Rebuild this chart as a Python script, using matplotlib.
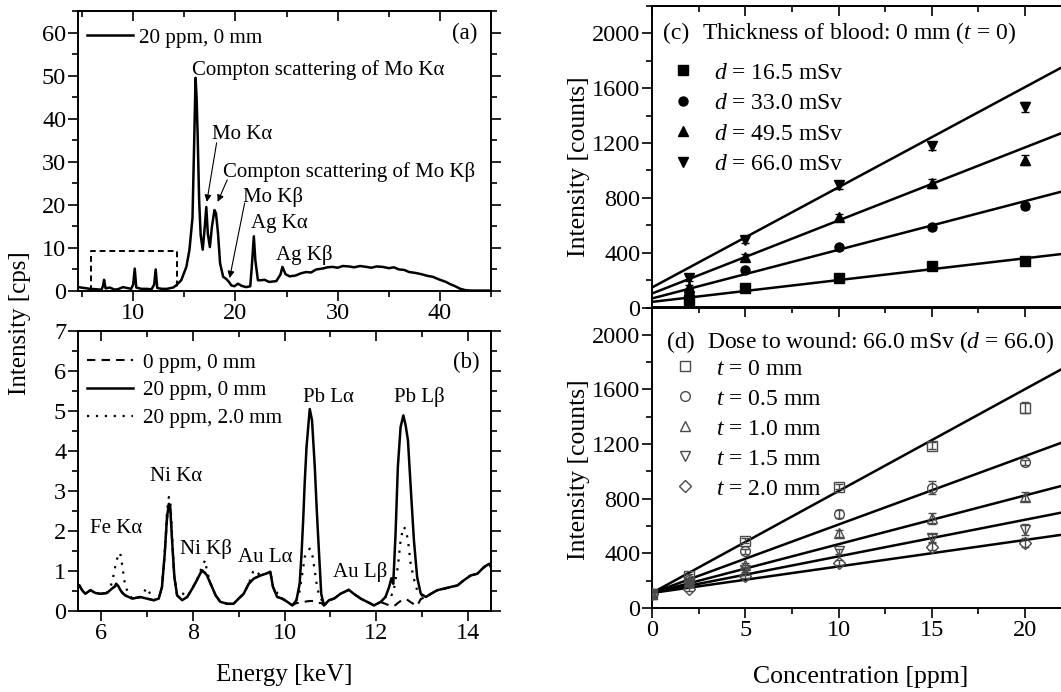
import matplotlib
matplotlib.use('Agg')
import matplotlib.pyplot as plt
import numpy as np
from matplotlib.ticker import MultipleLocator
from matplotlib.lines import Line2D

plt.rcParams['font.family'] = ['Liberation Serif', 'DejaVu Serif']
plt.rcParams['mathtext.fontset'] = 'custom'
plt.rcParams['mathtext.rm'] = 'Liberation Serif'
plt.rcParams['mathtext.it'] = 'Liberation Serif:italic'
plt.rcParams['axes.linewidth'] = 1.4

# ---------------- data: panel (a) ----------------
energy_a = [4.6, 5.2, 5.8, 6.4, 6.9, 7.05, 7.15, 7.3, 7.7, 8.2, 8.6, 9.0, 9.4, 9.8, 10.0,
            10.15, 10.3, 10.8, 11.3, 11.8, 12.05, 12.2, 12.35, 12.8, 13.3, 13.9, 14.2,
            14.7, 15.2, 15.5, 15.8, 15.95, 16.1, 16.2, 16.3, 16.45, 16.6, 16.8, 17.0,
            17.15, 17.3, 17.5, 17.7, 17.95, 18.1, 18.3, 18.5, 18.8, 19.1, 19.37, 19.6,
            19.9, 20.25, 20.6, 21.05, 21.45, 21.6, 21.8, 21.95, 22.2, 22.5, 22.85, 23.3,
            24.0, 24.4, 24.6, 24.9, 25.3, 25.9, 26.4, 26.9, 27.4, 27.9, 28.5, 29.0, 29.5,
            30.0, 30.5, 31.1, 31.6, 32.2, 32.8, 33.3, 33.8, 34.4, 35.0, 35.5, 36.0, 36.5,
            37.0, 37.6, 38.2, 38.8, 39.3, 39.9, 40.6, 41.0, 41.5, 42.0, 42.5, 43.0, 44.0, 45.0]
counts_a = [0.9, 0.7, 0.5, 0.4, 0.3, 1.2, 2.6, 0.6, 0.8, 0.3, 0.5, 0.9, 0.7, 0.5, 1.5,
            5.2, 0.8, 0.5, 0.5, 0.4, 1.5, 5.0, 0.7, 0.5, 0.5, 0.8, 1.3,
            2.5, 5.6, 9.5, 17.0, 33.0, 49.5, 45.0, 36.6, 21.0, 13.0, 9.6, 14.9,
            19.5, 13.3, 10.2, 14.9, 18.8, 18.0, 13.3, 6.4, 3.3, 2.8, 2.1, 1.3,
            1.1, 1.7, 1.2, 0.9, 1.1, 5.6, 12.7, 7.1, 2.5, 2.5, 2.6, 2.1,
            2.3, 3.8, 5.6, 3.9, 3.4, 3.6, 4.1, 4.4, 4.3, 5.0, 5.2, 5.5, 5.6,
            5.4, 5.8, 5.7, 5.5, 5.8, 5.6, 5.4, 5.7, 5.6, 5.3, 5.5, 5.0, 4.9,
            4.4, 4.2, 3.9, 3.5, 3.3, 2.7, 2.1, 1.6, 1.1, 0.5, 0.2, 0.1, 0.1, 0.1]
box_a = [5.9, 14.3, 0.0, 9.35]   # zoom region marker: x0, x1, y0, y1

# ---------------- data: panel (b) ----------------
energy_b = [5.5, 5.53, 5.59, 5.66, 5.77, 5.88, 5.99, 6.13, 6.24, 6.31, 6.33, 6.38, 6.42, 6.47,
            6.53, 6.68, 6.86, 7.0, 7.15, 7.26, 7.33, 7.39, 7.44, 7.48, 7.51, 7.55, 7.6, 7.66,
            7.77, 7.88, 7.99, 8.09, 8.2, 8.27, 8.31, 8.39, 8.5, 8.6, 8.75, 8.89, 9.0, 9.11,
            9.22, 9.33, 9.48, 9.59, 9.69, 9.75, 9.84, 9.95, 10.06, 10.17, 10.26, 10.33, 10.37,
            10.41, 10.44, 10.48, 10.55, 10.6, 10.66, 10.7, 10.73, 10.8, 10.86, 10.97, 11.08,
            11.22, 11.4, 11.51, 11.66, 11.8, 11.95, 12.1, 12.2, 12.28, 12.33, 12.37, 12.42,
            12.47, 12.53, 12.59, 12.64, 12.69, 12.75, 12.82, 12.89, 12.97, 13.08, 13.19, 13.33,
            13.48, 13.62, 13.77, 13.91, 14.06, 14.2, 14.35, 14.46, 14.5]
ppm20_0mm = [0.6, 0.64, 0.52, 0.43, 0.52, 0.45, 0.43, 0.45, 0.56, 0.62, 0.68, 0.62, 0.53, 0.45,
             0.39, 0.31, 0.35, 0.31, 0.27, 0.31, 0.6, 1.43, 2.35, 2.68, 2.6, 1.77, 0.85, 0.39,
             0.27, 0.35, 0.56, 0.77, 1.02, 0.95, 0.89, 0.68, 0.39, 0.23, 0.18, 0.18, 0.31, 0.43,
             0.68, 0.81, 0.89, 0.93, 0.98, 0.6, 0.35, 0.31, 0.23, 0.14, 0.27, 0.68, 1.4,
             2.35, 3.2, 4.1, 5.05, 4.77, 3.6, 2.6, 1.93, 0.43, 0.14, 0.27, 0.31,
             0.43, 0.53, 0.43, 0.31, 0.23, 0.14, 0.23, 0.35, 0.6, 0.82, 0.68, 1.93,
             3.6, 4.6, 4.89, 4.64, 4.27, 3.1, 1.77, 0.85, 0.43, 0.35, 0.43, 0.52,
             0.56, 0.6, 0.64, 0.77, 0.89, 0.93, 1.1, 1.18, 1.1]
ppm0_0mm = [0.6, 0.64, 0.52, 0.43, 0.52, 0.45, 0.43, 0.45, 0.56, 0.62, 0.68, 0.62, 0.53, 0.45,
            0.39, 0.31, 0.35, 0.31, 0.27, 0.31, 0.6, 1.43, 2.3, 2.6, 2.55, 1.77, 0.85, 0.39,
            0.27, 0.35, 0.56, 0.77, 1.0, 0.95, 0.89, 0.68, 0.39, 0.23, 0.18, 0.18, 0.31, 0.43,
            0.68, 0.81, 0.89, 0.93, 0.98, 0.6, 0.35, 0.31, 0.23, 0.14, 0.2, 0.2, 0.2,
            0.22, 0.23, 0.24, 0.25, 0.25, 0.24, 0.22, 0.2, 0.2, 0.14, 0.27, 0.31,
            0.43, 0.53, 0.43, 0.31, 0.23, 0.14, 0.22, 0.18, 0.14, 0.12, 0.12, 0.15,
            0.2, 0.25, 0.29, 0.3, 0.27, 0.22, 0.17, 0.13, 0.3, 0.35, 0.43, 0.52,
            0.56, 0.6, 0.64, 0.77, 0.89, 0.93, 1.1, 1.18, 1.1]
ppm20_2mm = [0.6, 0.64, 0.52, 0.43, 0.52, 0.45, 0.43, 0.45, 0.7, 1.1, 1.2, 1.43, 1.45, 1.1,
             0.6, 0.31, 0.35, 0.58, 0.27, 0.31, 0.6, 1.43, 2.5, 2.85, 2.8, 1.9, 0.85, 0.39,
             0.45, 0.35, 0.56, 0.77, 1.1, 1.27, 1.0, 0.68, 0.39, 0.23, 0.18, 0.18, 0.31, 0.43,
             0.68, 1.03, 0.89, 0.93, 0.98, 0.6, 0.45, 0.31, 0.23, 0.14, 0.27, 0.5, 0.8,
             1.1, 1.35, 1.45, 1.56, 1.45, 1.0, 0.68, 0.5, 0.3, 0.14, 0.27, 0.31,
             0.43, 0.53, 0.43, 0.31, 0.23, 0.14, 0.23, 0.35, 0.45, 0.4, 0.43, 0.8,
             1.1, 1.77, 2.1, 2.05, 1.77, 1.18, 0.8, 0.52, 0.4, 0.35, 0.43, 0.52,
             0.56, 0.6, 0.64, 0.77, 0.89, 0.93, 1.1, 1.18, 1.1]

# ---------------- data: panel (c) ----------------
conc = [2, 5, 10, 15, 20]
dose_labels = ['16.5', '33.0', '49.5', '66.0']
c_d165 = [54, 139, 215, 300, 341]
c_d330 = [105, 272, 438, 589, 740]
c_d495 = [150, 370, 657, 905, 1075]
c_d660 = [215, 491, 893, 1180, 1465]
c_err = [[10, 12, 15, 15, 18], [12, 15, 18, 20, 22], [15, 18, 25, 30, 35], [18, 20, 25, 30, 35]]
c_intercept = [41, 66, 102, 146]
c_slope = [15.9, 35.5, 53.3, 73.1]

# ---------------- data: panel (d) ----------------
conc_d = [0, 2, 5, 10, 15, 20]
thick_labels = ['0', '0.5', '1.0', '1.5', '2.0']
d_t00 = [100, 231, 494, 888, 1187, 1467]
d_t05 = [100, 207, 414, 689, 881, 1066]
d_t10 = [100, 195, 316, 547, 657, 815]
d_t15 = [100, 182, 280, 414, 511, 572]
d_t20 = [100, 139, 231, 333, 450, 479]
d_err = [[15, 15, 18, 20, 25, 40], [15, 15, 15, 30, 50, 20], [15, 12, 15, 25, 40, 35],
         [15, 12, 15, 20, 30, 40], [15, 12, 12, 15, 25, 30]]
d_intercept = [110, 110, 110, 110, 110]
d_slope = [74.6, 50.1, 35.7, 26.8, 19.4]

# ---------------- figure ----------------
W, H = 1061, 692
fig = plt.figure(figsize=(W / 100, H / 100), dpi=100)


def rect(l, r, t, b):
    return [l / W, 1 - b / H, (r - l) / W, (b - t) / H]


def fpos(x, y):
    return (x / W, 1 - y / H)


ax_a = fig.add_axes(rect(78, 491, 11, 291))
ax_b = fig.add_axes(rect(78, 491, 331, 611))
ax_c = fig.add_axes(rect(652, 652 + 22.5 * 18.65, 6, 307.5))
ax_d = fig.add_axes(rect(652, 652 + 22.5 * 18.65, 307.5, 608))

TICK_FS = 17.5


def style(ax, xmaj, xmin, ymaj, ymin, right=True, xlabels=True):
    ax.xaxis.set_major_locator(MultipleLocator(xmaj))
    ax.xaxis.set_minor_locator(MultipleLocator(xmin))
    ax.yaxis.set_major_locator(MultipleLocator(ymaj))
    ax.yaxis.set_minor_locator(MultipleLocator(ymin))
    ax.tick_params(which='both', direction='out', width=1.2, labelsize=TICK_FS, pad=1.5,
                   right=right, top=False, labelbottom=xlabels)
    ax.tick_params(which='major', length=7)
    ax.tick_params(which='minor', length=4)
    sec = ax.secondary_xaxis('top')
    sec.xaxis.set_major_locator(MultipleLocator(xmaj))
    sec.xaxis.set_minor_locator(MultipleLocator(xmin))
    sec.tick_params(which='both', direction='in', width=1.2, labeltop=False)
    sec.tick_params(which='major', length=7)
    sec.tick_params(which='minor', length=4)
    sec.spines['top'].set_linewidth(1.4)


# ---- (a) ----
ax_a.plot(energy_a, counts_a, color='black', lw=1.8, label='20 ppm, 0 mm')
ax_a.plot([box_a[0], box_a[0], box_a[1], box_a[1]], [box_a[2], box_a[3], box_a[3], box_a[2]],
          color='black', lw=1.4, ls=(0, (3, 2)))
ax_a.set_xlim(4.6, 45)
ax_a.set_ylim(0, 65)
style(ax_a, 10, 5, 10, 5)
ax_a.legend(loc='upper left', bbox_to_anchor=fpos(87, 28), bbox_transform=fig.transFigure,
            frameon=False, fontsize=15.2, handlelength=2.2, handletextpad=0.25,
            borderpad=0, borderaxespad=0)
fig.text(*fpos(477, 33), '(a)', fontsize=16.5, ha='right', va='center')

ANN = 15
ax_a.text(15.8, 51.2, 'Compton scattering of Mo K\u03b1', fontsize=ANN, ha='left', va='center')
ax_a.text(17.67, 36.3, 'Mo K\u03b1', fontsize=ANN, ha='left', va='center')
ax_a.text(18.75, 27.7, 'Compton scattering of Mo K\u03b2', fontsize=ANN, ha='left', va='center')
ax_a.text(20.7, 21.9, 'Mo K\u03b2', fontsize=ANN, ha='left', va='center')
ax_a.text(21.5, 15.6, 'Ag K\u03b1', fontsize=ANN, ha='left', va='center')
ax_a.text(24.0, 8.4, 'Ag K\u03b2', fontsize=ANN, ha='left', va='center')
arr = dict(arrowstyle='-|>', color='black', lw=0.8, mutation_scale=10, shrinkA=0, shrinkB=0)
ax_a.annotate('', xy=(17.2, 20.7), xytext=(18.16, 34.4), arrowprops=arr)
ax_a.annotate('', xy=(18.26, 20.7), xytext=(19.2, 25.8), arrowprops=arr)
ax_a.annotate('', xy=(19.43, 3.0), xytext=(20.9, 20.4), arrowprops=arr)

# ---- (b) ----
ax_b.plot(energy_b, ppm0_0mm, color='black', lw=1.5, ls=(0, (4, 3)), label='0 ppm, 0 mm')
ax_b.plot(energy_b, ppm20_0mm, color='black', lw=1.8, label='20 ppm, 0 mm')
ax_b.plot(energy_b, ppm20_2mm, color='black', lw=1.6, ls=(0, (1, 3)), label='20 ppm, 2.0 mm')
ax_b.set_xlim(5.5, 14.5)
ax_b.set_ylim(0, 7)
style(ax_b, 2, 1, 1, 0.5)
ax_b.legend(loc='upper left', bbox_to_anchor=fpos(87, 353), bbox_transform=fig.transFigure,
            frameon=False, fontsize=15.2, handlelength=2.2, handletextpad=0.45,
            labelspacing=0.37, borderpad=0, borderaxespad=0)
fig.text(*fpos(480, 362), '(b)', fontsize=16.5, ha='right', va='center')
ax_b.text(6.33, 2.06, 'Fe K\u03b1', fontsize=ANN, ha='center', va='center')
ax_b.text(7.64, 3.37, 'Ni K\u03b1', fontsize=ANN, ha='center', va='center')
ax_b.text(8.28, 1.56, 'Ni K\u03b2', fontsize=ANN, ha='center', va='center')
ax_b.text(9.59, 1.35, 'Au L\u03b1', fontsize=ANN, ha='center', va='center')
ax_b.text(10.95, 5.35, 'Pb L\u03b1', fontsize=ANN, ha='center', va='center')
ax_b.text(11.65, 0.98, 'Au L\u03b2', fontsize=ANN, ha='center', va='center')
ax_b.text(12.94, 5.35, 'Pb L\u03b2', fontsize=ANN, ha='center', va='center')

# ---- (c) ----
xfit = np.array([0.0, 22.5])
c_series = [c_d165, c_d330, c_d495, c_d660]
c_markers = ['s', 'o', '^', 'v']
handles_c = []
for i, (ys, mk) in enumerate(zip(c_series, c_markers)):
    ax_c.errorbar(conc, ys, yerr=c_err[i], fmt=mk, ms=6.5, mfc='black', mec='black',
                  ecolor='black', elinewidth=1, capsize=3, zorder=3)
    ax_c.plot(xfit, c_intercept[i] + c_slope[i] * xfit, color='black', lw=1.8)
    handles_c.append(Line2D([], [], marker=mk, ls='none', ms=6.5, mfc='black', mec='black',
                            label='$d$ = ' + dose_labels[i] + ' mSv'))
ax_c.set_xlim(0, 22.5)
ax_c.set_ylim(0, 2200)
style(ax_c, 5, 2.5, 400, 200, right=False, xlabels=False)
ax_c.spines['right'].set_visible(False)
ax_c.legend(handles=handles_c, loc='upper left', bbox_to_anchor=fpos(671, 62),
            bbox_transform=fig.transFigure, frameon=False, fontsize=17, handlelength=1.0,
            handletextpad=0.8, labelspacing=0.38, borderpad=0, borderaxespad=0)
fig.text(*fpos(663, 33), '(c)', fontsize=17, ha='left', va='center')
fig.text(*fpos(702, 33), 'Thickness of blood: 0 mm ($t$ = 0)', fontsize=17,
         ha='left', va='center')

# ---- (d) ----
d_series = [d_t00, d_t05, d_t10, d_t15, d_t20]
d_markers = ['s', 'o', '^', 'v', 'D']
d_ms = [6.5, 7, 7, 7, 6]
GREY = '#4a4a4a'
handles_d = []
for i, (ys, mk) in enumerate(zip(d_series, d_markers)):
    ax_d.errorbar(conc_d, ys, yerr=d_err[i], fmt=mk, ms=d_ms[i], mfc='none', mec=GREY, mew=1.0,
                  ecolor=GREY, elinewidth=1, capsize=3, zorder=3)
    ax_d.plot(xfit, d_intercept[i] + d_slope[i] * xfit, color='black', lw=1.8)
    handles_d.append(Line2D([], [], marker=mk, ls='none', ms=d_ms[i], mfc='none', mec=GREY,
                            mew=1.0, label='$t$ = ' + thick_labels[i] + ' mm'))
ax_d.set_xlim(0, 22.5)
ax_d.set_ylim(0, 2200)
style(ax_d, 5, 2.5, 400, 200, right=False)
ax_d.spines['right'].set_visible(False)
ax_d.legend(handles=handles_d, loc='upper left', bbox_to_anchor=fpos(673, 358),
            bbox_transform=fig.transFigure, frameon=False, fontsize=17, handlelength=1.0,
            handletextpad=0.8, labelspacing=0.36, borderpad=0, borderaxespad=0)
fig.text(*fpos(667, 342), '(d)', fontsize=17, ha='left', va='center')
fig.text(*fpos(707, 342), 'Dose to wound: 66.0 mSv ($d$ = 66.0)', fontsize=17,
         ha='left', va='center')

# ---- axis labels ----
fig.text(*fpos(20, 323), 'Intensity [cps]', rotation=90, fontsize=18, ha='center', va='center')
fig.text(*fpos(284, 675), 'Energy [keV]', fontsize=18, ha='center', va='center')
fig.text(*fpos(579, 167), 'Intensity [counts]', rotation=90, fontsize=18.5, ha='center', va='center')
fig.text(*fpos(579, 470), 'Intensity [counts]', rotation=90, fontsize=18.5, ha='center', va='center')
fig.text(*fpos(861, 677), 'Concentration [ppm]', fontsize=18.5, ha='center', va='center')

fig.savefig('out.png', dpi=100)
